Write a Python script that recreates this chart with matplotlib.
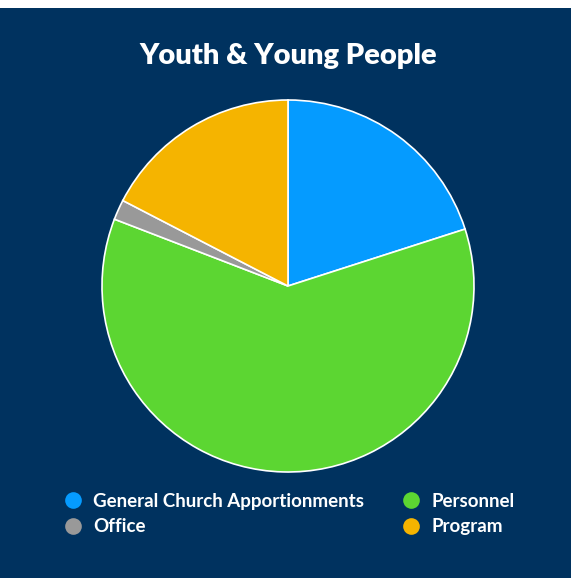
import matplotlib.pyplot as plt
from matplotlib.lines import Line2D
from matplotlib.patches import Rectangle

# budget shares (%)
categories = ['General Church Apportionments', 'Personnel', 'Office', 'Program']
shares = [20.05, 60.8, 1.75, 17.4]
colors = ['#059BFF', '#5CD632', '#999999', '#F5B400']

navy = '#00325F'

plt.rcParams['font.family'] = ['Lato', 'DejaVu Sans']

fig = plt.figure(figsize=(5.71, 5.78), dpi=100)
fig.patch.set_facecolor(navy)
# thin white band along the top edge
fig.patches.append(Rectangle((0, 1 - 8 / 578), 1, 8 / 578, transform=fig.transFigure,
                             facecolor='white', edgecolor='none', zorder=0))

ax = fig.add_axes([102 / 571, 106 / 578, 372 / 571, 372 / 578])
ax.set_facecolor(navy)
ax.pie(shares, colors=colors, startangle=90, counterclock=False, radius=1,
       wedgeprops=dict(edgecolor='white', linewidth=1.2))
ax.set_xlim(-1.0, 1.0)
ax.set_ylim(-1.0, 1.0)
ax.set_aspect('equal')
ax.axis('off')

fig.text(288 / 571, 1 - 56 / 578, 'Youth & Young People', color='white',
         fontsize=21, fontweight='heavy', ha='center', va='center')

# legend: left column General/Office, right column Personnel/Program
order = [0, 2, 1, 3]
handles = [Line2D([], [], marker='o', linestyle='none', markersize=12,
                  markerfacecolor=colors[i], markeredgecolor='none') for i in order]
labels = [categories[i] for i in order]
fig.legend(handles, labels, ncol=2, loc='center', bbox_to_anchor=(289 / 571, 1 - 514 / 578),
           frameon=False, labelcolor='white', prop={'size': 13.5, 'weight': 'bold'},
           handlelength=1.0, handletextpad=0.6, columnspacing=2.0, labelspacing=0.45)

plt.savefig('out.png', dpi=100, facecolor=fig.get_facecolor())
